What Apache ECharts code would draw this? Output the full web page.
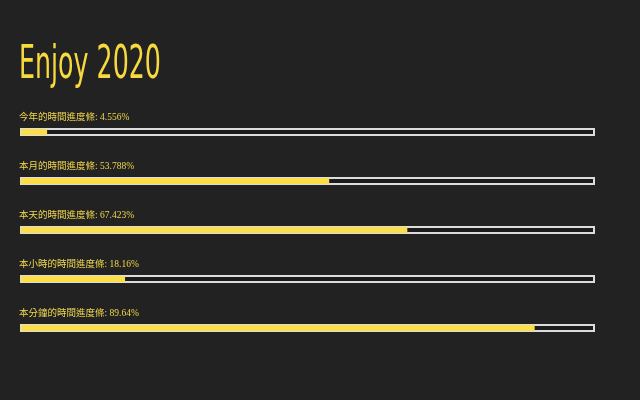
<!DOCTYPE html>
<html>
<head>
<meta charset="utf-8">
<script src="https://cdn.jsdelivr.net/npm/echarts@6/dist/echarts.min.js"></script>
<style>
html,body{margin:0;padding:0;background:#222222;}
#c{width:640px;height:400px;}
</style>
</head>
<body>
<div id="c"></div>
<script>
var titleText = 'Enjoy 2020';
var categories = ['今年的時間進度條', '本月的時間進度條', '本天的時間進度條', '本小時的時間進度條', '本分鐘的時間進度條'];
var values = [4.556, 53.788, 67.423, 18.16, 89.64];
var valueLabels = ['4.556%', '53.788%', '67.423%', '18.16%', '89.64%'];
var fullValues = [100, 100, 100, 100, 100];

var chart = echarts.init(document.getElementById('c'));
var yAxisBase = {
  type: 'category', data: categories, inverse: true,
  axisLine: {show: false}, axisTick: {show: false}, axisLabel: {show: false}, splitLine: {show: false}
};
var xAxisBase = {
  type: 'value', min: 0, max: 100,
  axisLine: {show: false}, axisTick: {show: false}, axisLabel: {show: false}, splitLine: {show: false}
};
chart.setOption({
  backgroundColor: '#222222',
  animation: false,
  graphic: [{
    type: 'text', left: 19, top: 43, scaleX: 0.55, silent: true,
    style: {text: titleText, fill: '#f7da3e', font: 'normal 46px "DejaVu Sans", sans-serif'}
  }],
  grid: [
    {left: 20, right: 45, top: 107.5, height: 245},
    {left: 21, right: 46, top: 107.5, height: 245}
  ],
  xAxis: [
    Object.assign({gridIndex: 0}, xAxisBase),
    Object.assign({gridIndex: 1}, xAxisBase)
  ],
  yAxis: [
    Object.assign({gridIndex: 0}, yAxisBase),
    Object.assign({gridIndex: 1}, yAxisBase)
  ],
  series: [
    {
      type: 'bar', xAxisIndex: 0, yAxisIndex: 0, data: fullValues, barWidth: 8,
      itemStyle: {color: '#1b1b1b', borderColor: '#dcdcdc', borderWidth: 2},
      label: {
        show: true, position: [-1, -6], verticalAlign: 'bottom', align: 'left',
        color: '#f2d84c', fontSize: 9.5,
        fontFamily: 'Liberation Serif, Noto Sans CJK TC, serif',
        formatter: function (p) { return p.name + ': ' + valueLabels[p.dataIndex]; }
      },
      silent: true
    },
    {
      type: 'bar', xAxisIndex: 1, yAxisIndex: 1, data: values, barWidth: 6,
      itemStyle: {color: '#fcdf48'},
      silent: true
    }
  ]
});
</script>
</body>
</html>
